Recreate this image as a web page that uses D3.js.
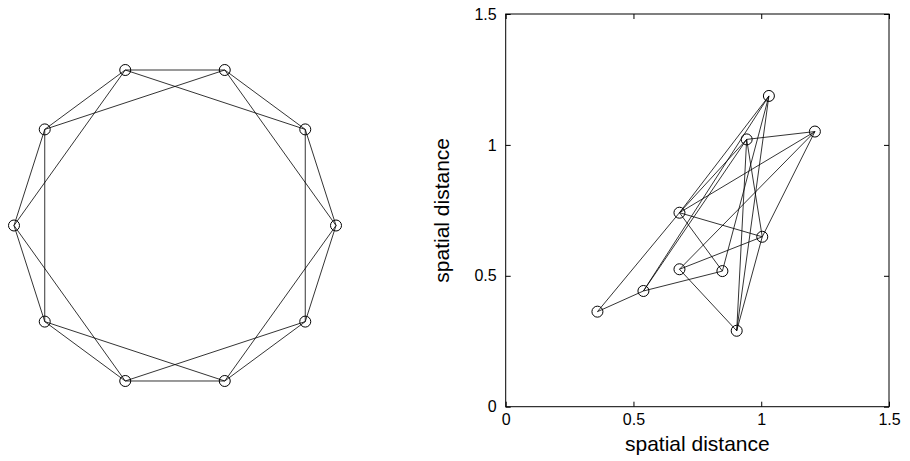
<!DOCTYPE html>
<html>
<head>
<meta charset="utf-8">
<script src="https://cdn.jsdelivr.net/npm/d3@7"></script>
<style>
  html, body { margin: 0; padding: 0; background: #fff; }
  svg { display: block; font-family: "Liberation Sans", Arial, Helvetica, sans-serif; }
</style>
</head>
<body>
<svg id="chart" width="910" height="461"></svg>
<script>
// Left panel: ring of 10 nodes (angle in degrees), each linked to its 1st and 2nd neighbours
const ringAngles = [0, 36, 72, 108, 144, 180, 216, 252, 288, 324];
const ringEdges = [
  [0, 1], [1, 2], [2, 3], [3, 4], [4, 5], [5, 6], [6, 7], [7, 8], [8, 9], [9, 0],
  [0, 2], [1, 3], [2, 4], [3, 5], [4, 6], [5, 7], [6, 8], [7, 9], [8, 0], [9, 1]
];

// Right panel: the same nodes placed by spatial distance
const nodeX = [0.359, 0.539, 0.680, 0.680, 0.848, 0.904, 1.004, 0.943, 1.030, 1.210];
const nodeY = [0.363, 0.442, 0.741, 0.525, 0.518, 0.290, 0.649, 1.021, 1.187, 1.051];
const spatialEdges = [
  [0, 1], [0, 2], [1, 4], [1, 7], [1, 8],
  [2, 4], [2, 6], [2, 9], [2, 8], [2, 7],
  [3, 6], [3, 5], [3, 9], [4, 8], [5, 6],
  [5, 8], [5, 7], [6, 7], [6, 9], [7, 9]
];
const xTicks = [0, 0.5, 1, 1.5];
const yTicks = [0, 0.5, 1, 1.5];
const xTitle = "spatial distance";
const yTitle = "spatial distance";

const svg = d3.select("#chart");
const ink = "#000";

// ---- left: ring graph ----
const xL = d3.scaleLinear([-1, 1], [14, 336]);
const yL = d3.scaleLinear([-1, 1], [389, 62]);
const rad = a => a * Math.PI / 180;
const ringPts = ringAngles.map(a => [xL(Math.cos(rad(a))), yL(Math.sin(rad(a)))]);

const left = svg.append("g");
left.selectAll("line").data(ringEdges).join("line")
  .attr("x1", d => ringPts[d[0]][0]).attr("y1", d => ringPts[d[0]][1])
  .attr("x2", d => ringPts[d[1]][0]).attr("y2", d => ringPts[d[1]][1])
  .attr("stroke", ink).attr("stroke-width", 0.8);
left.selectAll("circle").data(ringPts).join("circle")
  .attr("cx", d => d[0]).attr("cy", d => d[1]).attr("r", 5.5)
  .attr("fill", "none").attr("stroke", ink).attr("stroke-width", 1);

// ---- right: spatial embedding ----
const x = d3.scaleLinear([0, 1.5], [505.7, 889]);
const y = d3.scaleLinear([0, 1.5], [406.7, 14]);
const right = svg.append("g");

// box
right.append("rect")
  .attr("x", x(0)).attr("y", y(1.5))
  .attr("width", x(1.5) - x(0)).attr("height", y(0) - y(1.5))
  .attr("fill", "none").attr("stroke", ink).attr("stroke-width", 1);

// axes, ticks pointing inward
const styleAxis = g => {
  g.select(".domain").remove();
  g.selectAll(".tick line").attr("stroke", ink);
  g.selectAll(".tick text").attr("fill", ink).attr("font-size", 16)
    .attr("font-family", "Liberation Sans, Arial, sans-serif");
};
right.append("g").attr("transform", `translate(0,${y(0)})`)
  .call(d3.axisBottom(x).tickValues(xTicks).tickFormat(d3.format("")).tickSizeInner(-5).tickSizeOuter(0).tickPadding(7))
  .call(styleAxis);
right.append("g").attr("transform", `translate(${x(0)},0)`)
  .call(d3.axisLeft(y).tickValues(yTicks).tickFormat(d3.format("")).tickSizeInner(-5).tickSizeOuter(0).tickPadding(9))
  .call(styleAxis);
right.append("g").attr("transform", `translate(0,${y(1.5)})`)
  .call(d3.axisTop(x).tickValues(xTicks).tickFormat("").tickSizeInner(-5).tickSizeOuter(0))
  .call(styleAxis);
right.append("g").attr("transform", `translate(${x(1.5)},0)`)
  .call(d3.axisRight(y).tickValues(yTicks).tickFormat("").tickSizeInner(-5).tickSizeOuter(0))
  .call(styleAxis);

// edges + nodes
right.append("g").selectAll("line").data(spatialEdges).join("line")
  .attr("x1", d => x(nodeX[d[0]])).attr("y1", d => y(nodeY[d[0]]))
  .attr("x2", d => x(nodeX[d[1]])).attr("y2", d => y(nodeY[d[1]]))
  .attr("stroke", ink).attr("stroke-width", 0.8);
right.append("g").selectAll("circle").data(nodeX).join("circle")
  .attr("cx", (d, i) => x(nodeX[i])).attr("cy", (d, i) => y(nodeY[i])).attr("r", 5.5)
  .attr("fill", "none").attr("stroke", ink).attr("stroke-width", 1);

// titles
right.append("text")
  .attr("x", (x(0) + x(1.5)) / 2).attr("y", 451)
  .attr("text-anchor", "middle").attr("font-size", 21).attr("fill", ink)
  .text(xTitle);
right.append("text")
  .attr("transform", `translate(449,${(y(0) + y(1.5)) / 2}) rotate(-90)`)
  .attr("text-anchor", "middle").attr("font-size", 21).attr("fill", ink)
  .text(yTitle);
</script>
</body>
</html>
